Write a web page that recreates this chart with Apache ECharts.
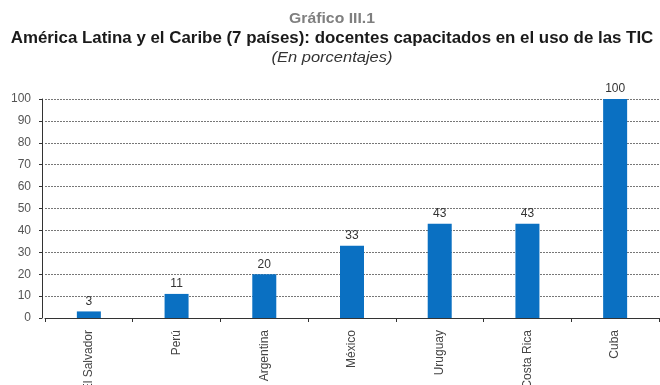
<!DOCTYPE html>
<html>
<head>
<meta charset="utf-8">
<script src="https://cdn.jsdelivr.net/npm/echarts@6/dist/echarts.min.js"></script>
<style>
  html, body { margin: 0; padding: 0; background: #fff; }
  #chart { width: 660px; height: 385px; }
</style>
</head>
<body>
<div id="chart"></div>
<script>
// Countries and share of teachers trained in ICT use (%)
const countries = ['El Salvador', 'Perú', 'Argentina', 'México', 'Uruguay', 'Costa Rica', 'Cuba'];
const trainedPct = [3, 11, 20, 33, 43, 43, 100];
const yTicks = [0, 10, 20, 30, 40, 50, 60, 70, 80, 90, 100];

const font = '"Liberation Sans", Arial, sans-serif';
const chart = echarts.init(document.getElementById('chart'));

// Heading lines, slightly widened like the report typography
function heading(text, y, size, weight, style, color, sx) {
  return {
    type: 'text', x: 332, y: y, scaleX: sx, scaleY: 1,
    style: {
      text: text,
      font: style + ' ' + weight + ' ' + size + 'px ' + font,
      fill: color,
      textAlign: 'center', textVerticalAlign: 'middle',
      align: 'center', verticalAlign: 'middle'
    }
  };
}

chart.setOption({
  animation: false,
  backgroundColor: '#ffffff',
  graphic: [
    heading('Gráfico III.1', 19, 15, 'bold', 'normal', '#7f7f7f', 1.05),
    heading('América Latina y el Caribe (7 países): docentes capacitados en el uso de las TIC', 38.5, 16, 'bold', 'normal', '#1a1a1a', 1.055),
    heading('(En porcentajes)', 58, 15, 'normal', 'italic', '#333333', 1.1)
  ],
  grid: {
    left: 45, right: 1, top: 99, bottom: 67,
    containLabel: false, outerBoundsMode: 'none'
  },
  xAxis: {
    type: 'category',
    data: countries,
    axisLine: { lineStyle: { color: '#333333', width: 1 } },
    axisTick: { show: true, length: 4, alignWithLabel: false, lineStyle: { color: '#333333' } },
    axisLabel: { rotate: 90, margin: 12, fontFamily: font, fontSize: 12, color: '#444444' }
  },
  yAxis: {
    type: 'value',
    offset: 3,
    min: yTicks[0], max: yTicks[yTicks.length - 1], interval: yTicks[1] - yTicks[0],
    axisLine: { show: true, lineStyle: { color: '#333333', width: 1 } },
    axisTick: { show: true, length: 3, lineStyle: { color: '#333333' } },
    axisLabel: { margin: 11, fontFamily: font, fontSize: 12, color: '#555555' },
    splitLine: { show: true, lineStyle: { color: '#777777', type: [2, 1], width: 1 } }
  },
  series: [{
    type: 'bar',
    data: trainedPct,
    barWidth: 24,
    itemStyle: { color: '#0a70c2' },
    label: {
      show: true, position: 'top', distance: 4,
      fontFamily: font, fontSize: 12, color: '#333333'
    }
  }]
});
</script>
</body>
</html>
